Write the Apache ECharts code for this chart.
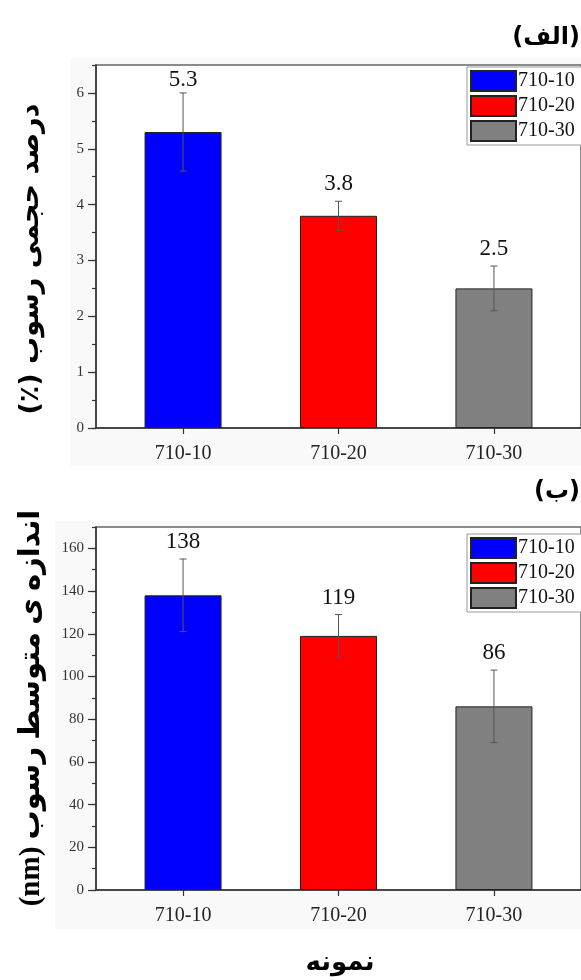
<!DOCTYPE html>
<html><head><meta charset="utf-8">
<script src="https://cdn.jsdelivr.net/npm/echarts@6/dist/echarts.min.js"></script>
<style>html,body{margin:0;padding:0;background:#fff}#c{width:581px;height:980px}</style>
</head><body><div id="c"></div>
<script>
const categories = ['710-10', '710-20', '710-30'];
const categoryPos = [1, 2, 3];
const volumePercent = [5.3, 3.8, 2.5];
const volumeError = [0.7, 0.26, 0.4];
const sizeNm = [138, 119, 86];
const sizeError = [17, 10, 17];
const yTicksTop = [0, 1, 2, 3, 4, 5, 6];
const yTicksBottom = [0, 20, 40, 60, 80, 100, 120, 140, 160];

const barColors = ['#0000ff', '#ff0000', '#808080'];
const serif = '"Liberation Serif", "Times New Roman", serif';
const arabicFont = '"DejaVu Sans", sans-serif';
const RLE = '\u202B', PDF = '\u202C';

const chart = echarts.init(document.getElementById('c'), null, { renderer: 'canvas' });

function xAxis(gi) {
  return {
    type: 'value', gridIndex: gi, min: 0.44, max: 3.56,
    axisLine: { show: true, onZero: false, lineStyle: { color: '#333', width: 1.5 } },
    axisTick: { show: true, customValues: categoryPos, length: 6, inside: false, lineStyle: { color: '#333', width: 1.2 } },
    axisLabel: { customValues: categoryPos, formatter: v => categories[Math.round(v) - 1], fontSize: 20, fontFamily: serif, color: '#222', margin: 16 },
    splitLine: { show: false }
  };
}
function yAxisMain(gi, max, ticks) {
  return {
    type: 'value', gridIndex: gi, min: 0, max: max, position: 'left',
    axisLine: { show: true, onZero: false, lineStyle: { color: '#333', width: 1.5 } },
    axisTick: { show: true, customValues: ticks, length: 8, inside: false, lineStyle: { color: '#333', width: 1.2 } },
    axisLabel: { customValues: ticks, fontSize: 15, fontFamily: serif, color: '#333', margin: 12 },
    splitLine: { show: false }
  };
}
function yAxisMinor(gi, max, step) {
  return {
    type: 'value', gridIndex: gi, min: 0, max: max, interval: step, position: 'left', offset: 0,
    axisLine: { show: false },
    axisTick: { show: true, length: 4, inside: false, lineStyle: { color: '#333', width: 1.2 } },
    axisLabel: { show: false },
    splitLine: { show: false }
  };
}

function barSeries(gi, values) {
  return categories.map((name, i) => ({
    type: 'bar', name: name, xAxisIndex: gi, yAxisIndex: gi,
    data: [[categoryPos[i], values[i]]],
    barWidth: 77, barGap: '-100%',
    itemStyle: { color: barColors[i], borderColor: '#222', borderWidth: 1 },
    z: 2
  }));
}
function errorSeries(gi, values, errs) {
  return {
    type: 'custom', xAxisIndex: gi, yAxisIndex: gi, z: 4,
    encode: { x: 0, y: [1, 2] },
    data: values.map((v, i) => [categoryPos[i], v - errs[i], v + errs[i], v]),
    renderItem: function (params, api) {
      const x = api.value(0);
      const lo = api.coord([x, api.value(1)]);
      const hi = api.coord([x, api.value(2)]);
      const top = params.coordSys.y;
      const ly = Math.max(hi[1] - 17, top + 15);
      const st = { stroke: '#555', lineWidth: 1 };
      return {
        type: 'group', children: [
          { type: 'line', shape: { x1: hi[0], y1: hi[1], x2: lo[0], y2: lo[1] }, style: st },
          { type: 'line', shape: { x1: hi[0] - 3.5, y1: hi[1], x2: hi[0] + 3.5, y2: hi[1] }, style: st },
          { type: 'line', shape: { x1: lo[0] - 3.5, y1: lo[1], x2: lo[0] + 3.5, y2: lo[1] }, style: st },
          { type: 'text', x: hi[0], y: ly, style: { text: String(api.value(3)), fontSize: 23, fontFamily: serif, fill: '#111', align: 'center', verticalAlign: 'middle' } }
        ]
      };
    }
  };
}
function legend(top) {
  return {
    orient: 'vertical', left: 467, top: top, data: categories,
    itemWidth: 45, itemHeight: 20, itemGap: 3, icon: 'rect',
    textStyle: { fontSize: 20, fontFamily: serif, color: '#111', padding: [0, 0, 0, -3] },
    backgroundColor: '#fff', borderColor: '#999', borderWidth: 1, padding: [3, 8, 3, 3],
    selectedMode: false
  };
}

chart.setOption({
  animation: false,
  backgroundColor: '#fff',
  grid: [
    { left: 96, top: 65, width: 488, height: 363, show: true, backgroundColor: '#fff', borderColor: '#666', borderWidth: 1.5 },
    { left: 96, top: 527, width: 488, height: 363, show: true, backgroundColor: '#fff', borderColor: '#666', borderWidth: 1.5 }
  ],
  xAxis: [xAxis(0), xAxis(1)],
  yAxis: [yAxisMain(0, 6.5, yTicksTop), yAxisMain(1, 170, yTicksBottom), yAxisMinor(0, 6.5, 0.5), yAxisMinor(1, 170, 10)],
  legend: [legend(67), legend(534)],
  series: [
    ...barSeries(0, volumePercent),
    ...barSeries(1, sizeNm),
    errorSeries(0, volumePercent, volumeError),
    errorSeries(1, sizeNm, sizeError)
  ],
  graphic: [
    { type: 'rect', z: -100, silent: true, shape: { x: 70, y: 58, width: 511, height: 408 }, style: { fill: '#f9f9f9' } },
    { type: 'rect', z: -100, silent: true, shape: { x: 55, y: 521, width: 526, height: 408 }, style: { fill: '#f9f9f9' } },
    { type: 'text', x: 580, y: 38, style: { text: RLE + '(الف)' + PDF, font: 'bold 24px ' + arabicFont, fill: '#000', align: 'right', verticalAlign: 'middle' } },
    { type: 'text', x: 580, y: 492, style: { text: RLE + '(ب)' + PDF, font: 'bold 24px ' + arabicFont, fill: '#000', align: 'right', verticalAlign: 'middle' } },
    { type: 'text', x: 31, y: 259, rotation: Math.PI / 2, style: { text: RLE + 'درصد حجمی رسوب (٪)' + PDF, font: 'bold 27px ' + arabicFont, fill: '#000', align: 'center', verticalAlign: 'middle' } },
    { type: 'text', x: 32, y: 708, rotation: Math.PI / 2, style: { text: RLE + 'اندازه ی متوسط رسوب (nm)' + PDF, font: 'bold 29px "Liberation Serif", ' + arabicFont, fill: '#000', align: 'center', verticalAlign: 'middle' } },
    { type: 'text', x: 340, y: 963, style: { text: 'نمونه', font: 'bold 26px ' + arabicFont, fill: '#000', align: 'center', verticalAlign: 'middle' } }
  ]
});
</script></body></html>
